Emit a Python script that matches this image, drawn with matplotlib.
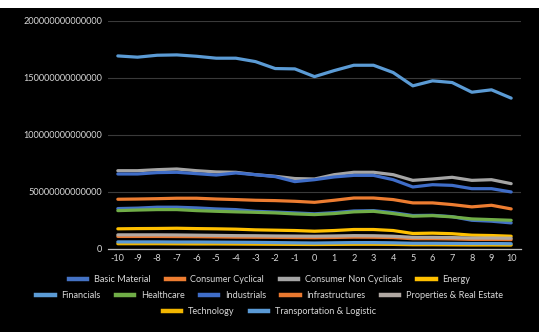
"""
Sector values from period -10 to +10, one line per sector, on a dark chart.
"""

import matplotlib.pyplot as plt
from matplotlib.patches import Rectangle
from matplotlib.lines import Line2D

SCALE = 1e13  # values below are in units of 10^13

periods = list(range(-10, 11))

basic_material = [3.51, 3.55, 3.63, 3.63, 3.57, 3.48, 3.42, 3.27, 3.20, 3.13, 3.05,
                  3.15, 3.30, 3.33, 3.15, 2.90, 2.92, 2.80, 2.48, 2.40, 2.25]
consumer_cyclical = [4.33, 4.35, 4.38, 4.42, 4.42, 4.35, 4.30, 4.24, 4.21, 4.15, 4.06,
                     4.24, 4.44, 4.44, 4.30, 4.01, 4.01, 3.86, 3.66, 3.80, 3.48]
consumer_non_cyclicals = [6.84, 6.84, 6.93, 6.99, 6.84, 6.73, 6.70, 6.49, 6.35, 6.15, 6.11,
                          6.49, 6.70, 6.70, 6.49, 5.99, 6.11, 6.26, 5.99, 6.05, 5.70]
energy = [1.73, 1.75, 1.76, 1.78, 1.75, 1.73, 1.70, 1.64, 1.61, 1.58, 1.52,
          1.58, 1.67, 1.67, 1.58, 1.32, 1.35, 1.30, 1.17, 1.14, 1.08]
financials = [16.93, 16.82, 16.99, 17.02, 16.90, 16.73, 16.73, 16.43, 15.82, 15.79, 15.11,
              15.64, 16.11, 16.11, 15.47, 14.30, 14.74, 14.59, 13.74, 13.95, 13.22]
healthcare = [3.33, 3.38, 3.42, 3.42, 3.33, 3.27, 3.22, 3.18, 3.13, 3.04, 2.98,
              3.07, 3.22, 3.27, 3.07, 2.84, 2.89, 2.78, 2.60, 2.54, 2.48]
industrials = [6.55, 6.55, 6.67, 6.70, 6.58, 6.46, 6.64, 6.49, 6.32, 5.88, 6.05,
               6.29, 6.43, 6.43, 6.05, 5.41, 5.61, 5.55, 5.26, 5.26, 4.97]
infrastructures = [1.06, 1.06, 1.06, 1.05, 1.04, 1.02, 1.00, 0.99, 0.98, 0.96, 0.95,
                   0.97, 1.00, 0.99, 0.96, 0.86, 0.86, 0.84, 0.80, 0.80, 0.78]
properties = [1.20, 1.20, 1.20, 1.19, 1.17, 1.15, 1.13, 1.12, 1.10, 1.09, 1.08,
              1.10, 1.13, 1.12, 1.08, 0.98, 0.98, 0.96, 0.92, 0.92, 0.90]
technology = [0.42, 0.42, 0.42, 0.41, 0.40, 0.40, 0.39, 0.38, 0.37, 0.36, 0.35,
              0.36, 0.37, 0.37, 0.36, 0.33, 0.33, 0.32, 0.31, 0.31, 0.30]
transportation = [0.58, 0.58, 0.58, 0.57, 0.57, 0.56, 0.55, 0.54, 0.52, 0.50, 0.48,
                  0.50, 0.52, 0.52, 0.50, 0.46, 0.46, 0.45, 0.44, 0.44, 0.42]

names = ["Basic Material", "Consumer Cyclical", "Consumer Non Cyclicals", "Energy",
         "Financials", "Healthcare", "Industrials", "Infrastructures",
         "Properties & Real Estate", "Technology", "Transportation & Logistic"]
series = [basic_material, consumer_cyclical, consumer_non_cyclicals, energy,
          financials, healthcare, industrials, infrastructures,
          properties, technology, transportation]
colors = ["#4472C4", "#ED7D31", "#A5A5A5", "#FFC000",
          "#5B9BD5", "#70AD47", "#3F6DC8", "#E9782F",
          "#B0A8A2", "#F2B600", "#5A9AD6"]

yticks = [0, 5e13, 1e14, 1.5e14, 2e14]
ytick_labels = ["0", "50000000000000", "100000000000000",
                "150000000000000", "200000000000000"]

plt.rcParams["font.family"] = ["Lato", "DejaVu Sans"]
TEXT = "#D9D9D9"

fig = plt.figure(figsize=(5.39, 3.32), dpi=100, facecolor="black")
# thin white strip along the top edge
fig.patches.append(Rectangle((0, 1 - 8 / 332), 1, 8 / 332, transform=fig.transFigure,
                             facecolor="white", edgecolor="none", zorder=-1))

ax = fig.add_axes([108 / 539, 1 - 248.5 / 332, 413 / 539, 227.5 / 332])
ax.set_facecolor("black")

for name, vals, col in zip(names, series, colors):
    ax.plot(periods, [v * SCALE for v in vals], color=col, lw=2.3,
            solid_joinstyle="round", solid_capstyle="round", label=name)

ax.set_xlim(-10.5, 10.5)
ax.set_ylim(0, 2e14)
ax.set_xticks(periods)
ax.set_xticklabels([str(p) for p in periods])
ax.set_yticks(yticks)
ax.set_yticklabels(ytick_labels)
ax.tick_params(axis="both", length=0, colors=TEXT, labelsize=6.6)
ax.tick_params(axis="x", pad=4)
ax.tick_params(axis="y", pad=4)

ax.grid(axis="y", color="#3A3A3A", lw=0.8)
ax.set_axisbelow(True)
for side in ["top", "right", "left"]:
    ax.spines[side].set_visible(False)
ax.spines["bottom"].set_color("#BFBFBF")
ax.spines["bottom"].set_linewidth(0.9)

# legend in three centred rows
handles = [Line2D([0], [0], color=c, lw=3.2) for c in colors]
rows = [(0, 4, 280), (4, 9, 296), (9, 11, 312)]
for start, stop, ypix in rows:
    leg = fig.legend(handles[start:stop], names[start:stop], ncol=stop - start,
                     loc="center", bbox_to_anchor=(0.5, 1 - ypix / 332),
                     frameon=False, fontsize=6.6, labelcolor=TEXT,
                     handlelength=2.0, handletextpad=0.7, columnspacing=1.7,
                     borderpad=0, borderaxespad=0)

fig.savefig("out.png", dpi=100, facecolor=fig.get_facecolor())
